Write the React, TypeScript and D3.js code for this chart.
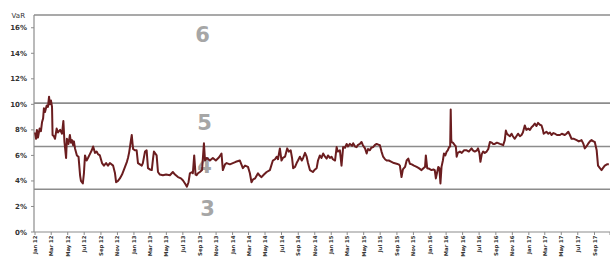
import React from "react";
import * as d3 from "d3";

// month offsets from Jan 2012 (fractional) and VaR in %
const months = [
  0, 0.12, 0.24, 0.36, 0.55, 0.73, 0.85, 0.97, 1.09, 1.22, 1.42, 1.58, 1.7, 1.82, 1.94, 2.07, 2.15, 2.31, 2.43, 2.64,
  2.79, 3.04, 3.28, 3.44, 3.58, 3.77, 3.89, 4.07, 4.25, 4.37, 4.5, 4.62, 4.74, 4.86, 5.1, 5.29, 5.47, 5.59, 5.8, 5.95,
  6.08, 6.26, 6.44, 6.68, 6.89, 7.05, 7.29, 7.5, 7.65, 7.9, 8.14, 8.38, 8.63, 8.87, 9.11, 9.48, 9.72, 9.84, 10.08, 10.33,
  10.57, 10.94, 11.18, 11.3, 11.42, 11.54, 11.66, 11.75, 11.85, 11.91, 12.15, 12.36, 12.51, 12.76, 12.96, 13.12, 13.37, 13.57, 13.73, 13.97,
  14.18, 14.34, 14.46, 14.79, 14.94, 15.19, 15.55, 15.92, 16.4, 16.77, 17.01, 17.37, 17.74, 17.98, 18.23, 18.47, 18.65, 18.83, 19.08, 19.2,
  19.35, 19.5, 19.65, 19.8, 20.05, 20.29, 20.53, 20.66, 20.9, 21.26, 21.63, 21.99, 22.36, 22.68, 22.84, 23.09, 23.29, 23.69, 24.06, 24.42,
  24.91, 25.27, 25.52, 25.88, 26.12, 26.33, 26.49, 26.73, 27.09, 27.34, 27.54, 27.82, 28.15, 28.55, 28.92, 29.16, 29.37, 29.52, 29.77, 29.97,
  30.13, 30.38, 30.65, 30.86, 31.07, 31.23, 31.38, 31.59, 31.8, 31.95, 32.2, 32.44, 32.6, 32.81, 33.01, 33.17, 33.41, 33.78, 34.02, 34.23,
  34.38, 34.63, 34.81, 35.03, 35.24, 35.44, 35.6, 35.84, 36.05, 36.21, 36.45, 36.66, 36.81, 37.06, 37.26, 37.46, 37.67, 37.87, 38.03, 38.27,
  38.52, 38.67, 38.88, 39.09, 39.24, 39.49, 39.69, 39.85, 40.1, 40.3, 40.46, 40.7, 40.88, 41.1, 41.31, 41.51, 41.73, 41.92, 42.1, 42.32,
  42.53, 42.73, 43.01, 43.34, 43.62, 43.95, 44.17, 44.35, 44.55, 44.71, 44.96, 45.16, 45.36, 45.56, 45.81, 46.05, 46.38, 46.66, 46.98, 47.2,
  47.39, 47.51, 47.66, 47.93, 48.2, 48.42, 48.6, 48.72, 48.84, 49.0, 49.15, 49.29, 49.41, 49.57, 49.69, 49.88, 50.02, 50.18, 50.34, 50.45,
  50.51, 50.58, 50.63, 50.79, 51.03, 51.15, 51.24, 51.39, 51.64, 51.88, 52.12, 52.45, 52.73, 53.06, 53.22, 53.46, 53.7, 53.86, 54.01, 54.15,
  54.31, 54.47, 54.68, 54.88, 55.1, 55.28, 55.53, 55.68, 55.89, 56.13, 56.5, 56.74, 56.9, 57.11, 57.23, 57.35, 57.51, 57.71, 57.92, 58.08,
  58.32, 58.5, 58.72, 58.93, 59.14, 59.29, 59.54, 59.72, 59.94, 60.14, 60.35, 60.51, 60.75, 60.93, 61.15, 61.36, 61.56, 61.72, 61.84, 62.17,
  62.39, 62.57, 62.78, 63.0, 63.18, 63.42, 63.79, 64.03, 64.4, 64.58, 64.8, 65.0, 65.21, 65.49, 65.82, 66.1, 66.42, 66.64, 66.83, 67.03,
  67.23, 67.43, 67.64, 67.86, 68.04, 68.25, 68.44, 68.65, 68.86, 69.02, 69.26, 69.5, 69.74,
];

const varValues = [
  7.8, 7.3, 8.0, 7.4, 8.1, 7.9, 8.6, 8.9, 9.7, 9.4, 9.9, 9.8, 10.6, 10.0, 10.3, 9.8, 7.6, 7.5, 7.3, 8.1,
  7.8, 8.0, 7.7, 8.7, 7.05, 5.8, 7.3, 6.9, 7.6, 7.0, 7.2, 6.8, 7.1, 6.55, 6.0, 5.9, 4.4, 4.0, 3.8, 4.6,
  6.0, 5.6, 5.8, 6.1, 6.4, 6.7, 6.2, 6.3, 6.1, 6.0, 5.4, 5.2, 5.4, 5.2, 5.4, 5.2, 4.6, 3.9, 4.0, 4.2,
  4.5, 5.1, 5.5, 5.8, 6.2, 6.6, 7.2, 7.6, 6.9, 6.5, 6.4, 6.4, 5.4, 5.3, 5.2, 5.4, 6.3, 6.4, 5.0, 4.9,
  4.85, 5.8, 6.3, 6.0, 4.7, 4.5, 4.45, 4.5, 4.45, 4.7, 4.5, 4.3, 4.2, 4.05, 3.8, 3.55, 3.9, 4.6, 4.7, 4.6,
  6.0, 4.5, 4.45, 4.6, 4.7, 4.85, 6.95, 5.6, 5.8, 5.6, 5.8, 5.6, 5.85, 6.15, 4.85, 5.3, 5.4, 5.3, 5.4, 5.5,
  5.6, 5.0, 5.2, 5.1, 4.6, 3.9, 4.1, 4.2, 4.6, 4.4, 4.3, 4.5, 4.7, 4.85, 5.6, 5.7, 5.9, 5.7, 6.55, 5.6,
  5.8, 5.9, 6.55, 6.3, 6.4, 5.8, 5.0, 5.1, 5.4, 5.6, 5.9, 5.6, 5.8, 6.2, 5.9, 5.4, 4.85, 4.7, 4.9, 5.0,
  5.6, 6.0, 5.8, 6.15, 5.9, 5.75, 6.0, 5.8, 5.9, 5.7, 5.6, 6.65, 6.3, 6.4, 5.2, 6.65, 6.6, 6.9, 6.7, 6.9,
  6.75, 6.95, 6.7, 6.65, 6.8, 6.9, 7.05, 6.8, 6.55, 6.15, 6.5, 6.4, 6.6, 6.65, 6.8, 6.9, 6.85, 6.8, 6.3, 5.9,
  5.7, 5.6, 5.6, 5.5, 5.4, 5.35, 5.3, 5.2, 4.3, 4.9, 5.1, 5.6, 5.75, 5.35, 5.3, 5.2, 5.1, 5.0, 4.85, 5.0,
  5.1, 6.0, 5.0, 4.95, 4.85, 4.9, 4.85, 4.2, 4.6, 5.1, 5.0, 3.8, 5.1, 5.6, 6.15, 6.0, 6.3, 6.4, 6.65, 6.7,
  9.6, 7.3, 7.05, 7.0, 6.8, 6.7, 5.9, 6.2, 6.3, 6.2, 6.4, 6.4, 6.3, 6.55, 6.4, 6.3, 6.4, 6.55, 6.2, 5.5,
  6.1, 6.3, 6.2, 6.3, 6.5, 7.05, 7.0, 6.9, 6.9, 7.0, 6.9, 6.85, 6.8, 7.2, 7.95, 7.7, 7.6, 7.5, 7.7, 7.5,
  7.3, 7.5, 7.7, 7.5, 7.6, 7.8, 8.35, 8.0, 8.1, 8.0, 8.2, 8.3, 8.5, 8.3, 8.55, 8.4, 8.35, 8.0, 7.7, 7.85,
  7.7, 7.8, 7.6, 7.75, 7.7, 7.6, 7.6, 7.7, 7.6, 7.7, 7.85, 7.6, 7.3, 7.3, 7.2, 7.1, 7.2, 6.9, 6.55, 6.7,
  6.9, 7.1, 7.2, 7.1, 7.05, 6.4, 5.2, 5.0, 4.85, 5.0, 5.2, 5.3, 5.3,
];

// zone boundaries (%) and zone names
const zoneTops = [17, 10.1, 6.7, 3.35];
const zoneNames = ["6", "5", "4", "3"];
const yTicks = [0, 2, 4, 6, 8, 10, 12, 14, 16];
const monthNames = ["Jan", "Feb", "Mar", "Apr", "May", "Jun", "Jul", "Aug", "Sep", "Oct", "Nov", "Dec"];

const W = 610;
const H = 257;

const toDate = (m: number) => d3.timeDay.offset(new Date(2012, 0, 1), Math.round(m * 30.44));

export default function App() {
  const x = d3.scaleTime().domain([new Date(2012, 0, 1), new Date(2017, 10, 1)]).range([35, 611]);
  const y = d3.scaleLinear().domain([0, 17]).range([232, 15]);

  const data = months.map((m, i) => ({ date: toDate(m), v: varValues[i] }));
  const line = d3
    .line<{ date: Date; v: number }>()
    .x((d) => x(d.date))
    .y((d) => y(d.v));

  // last tick (Nov 17) sits on the right edge and is only partly visible, as in the original
  const xTicks = d3.timeMonth.every(2)!.range(new Date(2012, 0, 1), new Date(2017, 9, 1));
  const fmt = (d: Date) => `${monthNames[d.getMonth()]} ${String(d.getFullYear()).slice(2)}`;
  const labelX = x(new Date(2013, 8, 12));

  return (
    <svg width={W} height={H} style={{ position: "absolute", left: 0, top: 0 }} fontFamily="DejaVu Sans">
      <rect width={W} height={H} fill="#fff" />
      {/* zone labels */}
      {zoneNames.map((z, i) => (
        <text
          key={z}
          x={labelX + [0, 2, 2, 5][i]}
          y={y(zoneTops[i]) + 27}
          textAnchor="middle"
          fontSize={21}
          fontWeight="bold"
          fill="#a6a6a6"
        >
          {z}
        </text>
      ))}
      {/* zone lines */}
      {zoneTops.map((t) => (
        <line key={t} x1={34} x2={W} y1={y(t)} y2={y(t)} stroke="#8c8c8c" strokeWidth={1.6} />
      ))}
      {/* axes */}
      <line x1={34} x2={34} y1={y(17)} y2={y(0)} stroke="#8c8c8c" strokeWidth={1.2} />
      <line x1={34} x2={W} y1={y(0)} y2={y(0)} stroke="#8c8c8c" strokeWidth={1.2} />
      {yTicks.map((t) => (
        <g key={t}>
          <line x1={31} x2={34} y1={y(t)} y2={y(t)} stroke="#8c8c8c" />
          <text x={27} y={y(t) + 2.5} textAnchor="end" fontSize={7} fontWeight="bold" fill="#333">
            {t}%
          </text>
        </g>
      ))}
      <text x={25} y={18} textAnchor="end" fontSize={7} fill="#333">
        VaR
      </text>
      <line x1={x(new Date(2017, 10, 1)) - 1} x2={x(new Date(2017, 10, 1)) - 1} y1={y(0)} y2={y(0) + 3} stroke="#8c8c8c" />
      {xTicks.map((d) => (
        <g key={+d}>
          <line x1={x(d)} x2={x(d)} y1={y(0)} y2={y(0) + 3} stroke="#8c8c8c" />
          <text
            transform={`translate(${x(d) + 2},${y(0) + 3.5}) rotate(-90)`}
            textAnchor="end"
            fontSize={5.3}
            fontWeight="bold"
            fill="#333"
          >
            {fmt(d)}
          </text>
        </g>
      ))}
      <path d={line(data) ?? ""} fill="none" stroke="#6b1d1f" strokeWidth={2} strokeLinejoin="round" />
    </svg>
  );
}
